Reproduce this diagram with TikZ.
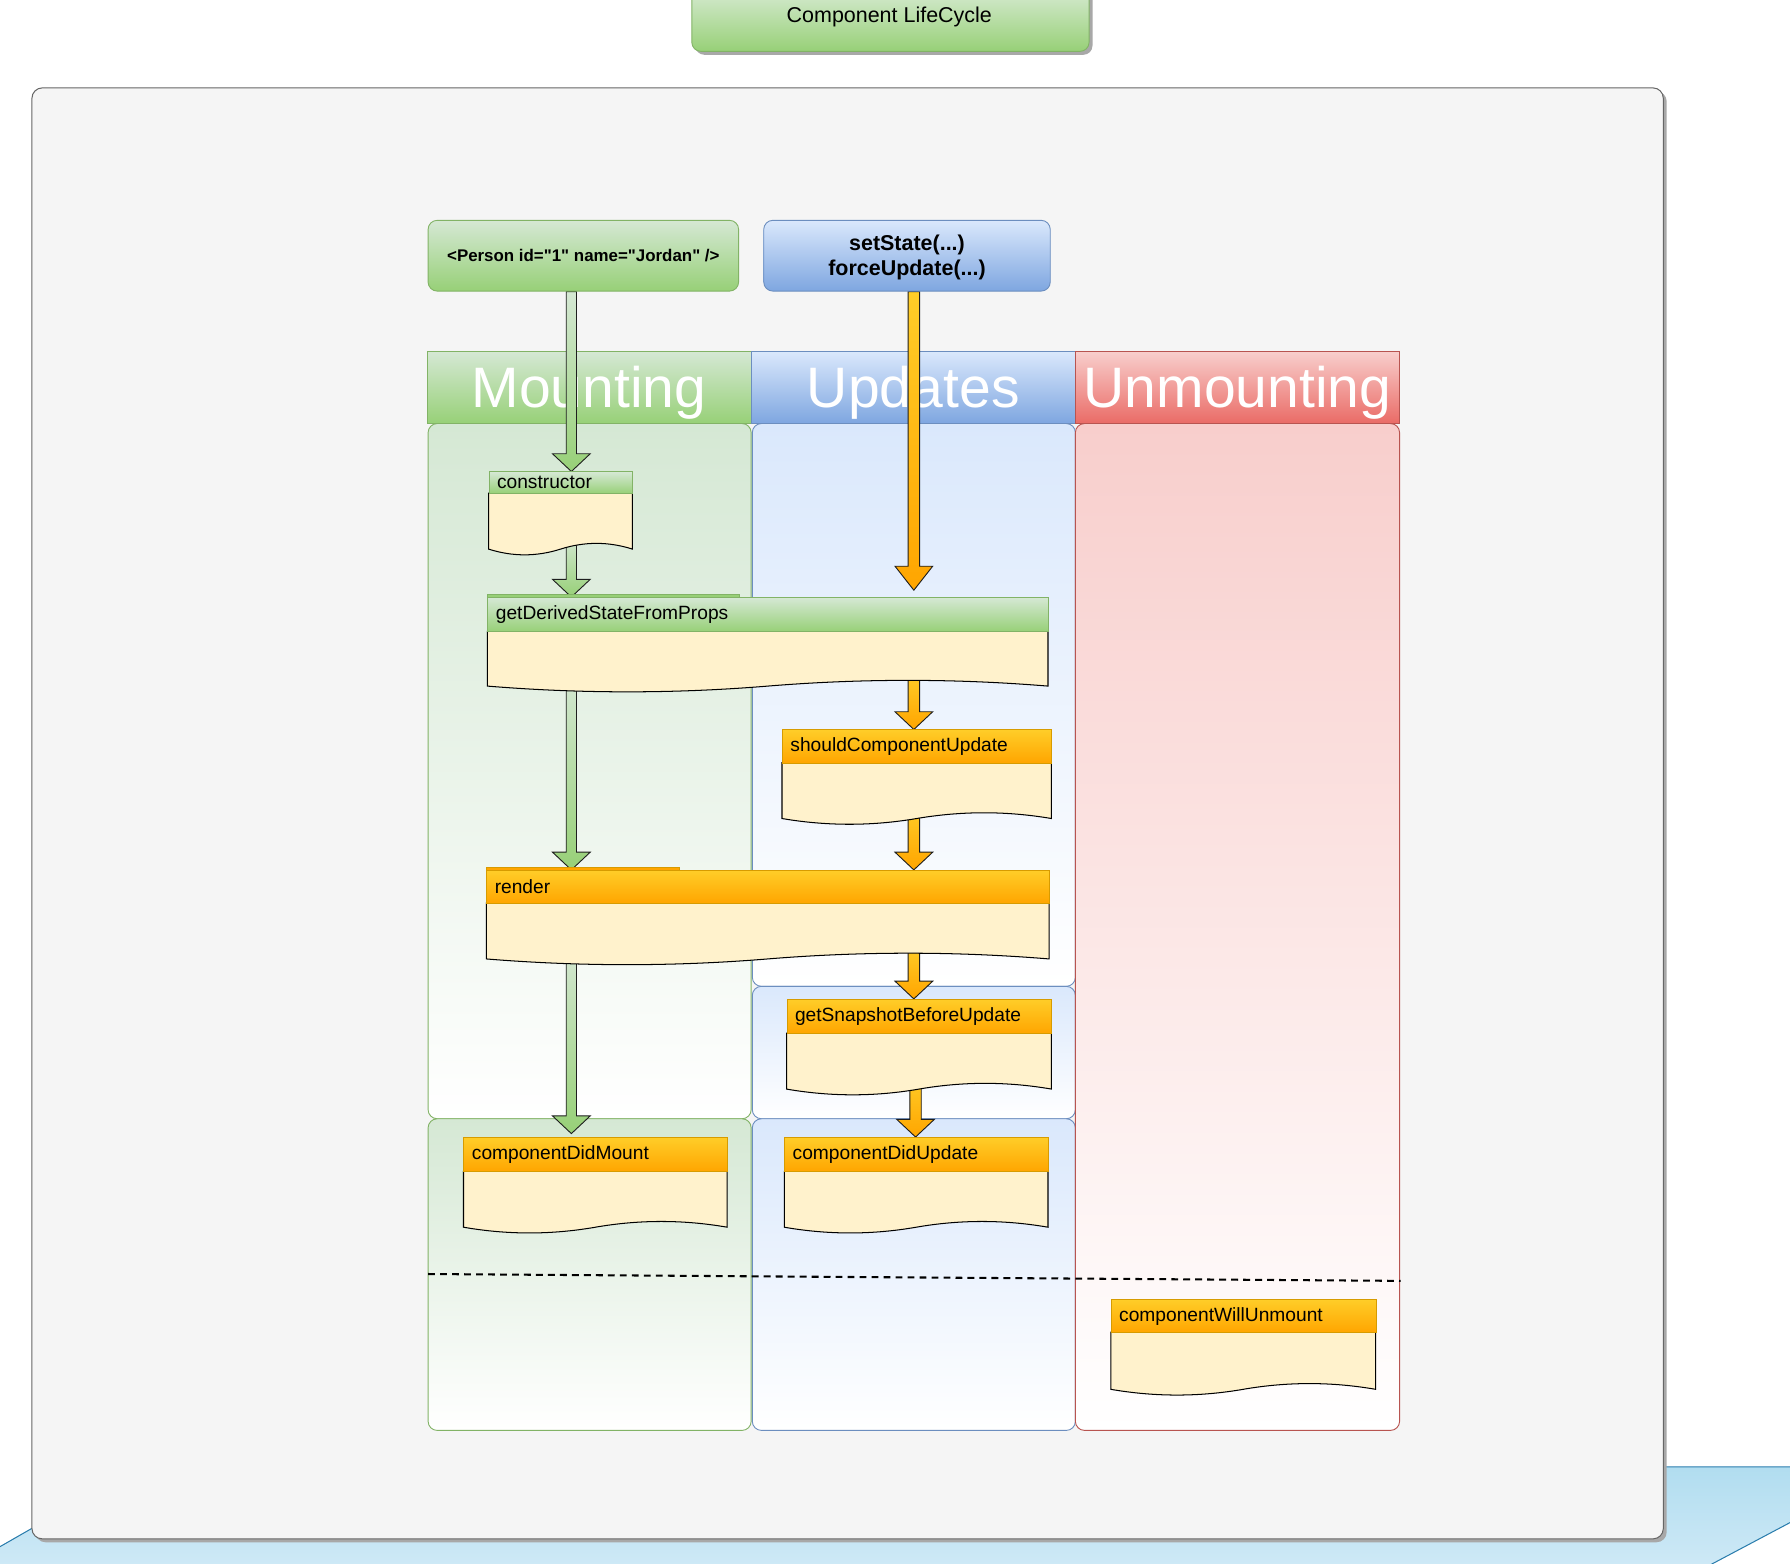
\documentclass[tikz,border=0pt]{standalone}
\usepackage{fontspec}
\setmainfont{Liberation Sans}
\newfontfamily\plainsans{Liberation Sans}
\usetikzlibrary{calc}
\definecolor{green1}{HTML}{D5E8D4}
\definecolor{green2}{HTML}{97D077}
\definecolor{greenS}{HTML}{82B366}
\definecolor{blue1}{HTML}{DAE8FC}
\definecolor{blue2}{HTML}{7EA6E0}
\definecolor{blueS}{HTML}{6C8EBF}
\definecolor{red1}{HTML}{F8CECC}
\definecolor{red2}{HTML}{EA6B66}
\definecolor{redS}{HTML}{B85450}
\definecolor{orange1}{HTML}{FFCD28}
\definecolor{orange2}{HTML}{FFA500}
\definecolor{orangeS}{HTML}{D79B00}
\definecolor{docfill}{HTML}{FFF2CC}
\definecolor{panelF}{HTML}{F5F5F5}
\definecolor{panelS}{HTML}{666666}
\definecolor{shadowC}{HTML}{A8A8A8}
\definecolor{sky1}{HTML}{B1DDF0}
\definecolor{sky2}{HTML}{D8EDF8}
\definecolor{skyS}{HTML}{2A7DAD}
\definecolor{arrS}{HTML}{1E1E1E}
\pgfdeclarelayer{bg}
\pgfdeclarelayer{arr}
\pgfsetlayers{bg,arr,main}
% document shape: header node with label, body with wavy bottom
\newcommand\docnode[8]{% #1 name, #2 x0, #3 x1, #4 ytop, #5 yhead, #6 ybottom, #7 header style, #8 text
  \pgfmathsetmacro\dW{#3-#2}%
  \pgfmathsetmacro\dTW{#3-#2-14}%
  \pgfmathsetmacro\dH{#5-#4}%
  \path[docbody] (#2,#5) -- (#3,#5) -- (#3,#6)
     .. controls ({#3-\dW/6},{#6-6.7}) and ({#3-\dW/3},{#6-6.7}) .. ({(#2+#3)/2},#6)
     .. controls ({#2+\dW/3},{#6+6.7}) and ({#2+\dW/6},{#6+6.7}) .. (#2,#6) -- cycle;
  \node[#7, anchor=north west, minimum width=\dW pt, minimum height=\dH pt,
        text width=\dTW pt, align=left, inner xsep=7pt, inner ysep=0pt] (#1) at (#2,#4) {#8};
  \coordinate (#1-end) at ({(#2+#3)/2},{#6-12});
}
% block arrow: [head length]{style}{shaft half width}{from}{to}
\newcommand\barrow[5][15.5pt]{%
  \path[#2] let \p1=(#4), \p2=(#5) in
    (\x1-#3,\y1) -- (\x1-#3,\y2+#1) -- (\x1-16.5pt,\y2+#1) -- (\x1,\y2)
    -- (\x1+16.5pt,\y2+#1) -- (\x1+#3,\y2+#1) -- (\x1+#3,\y1) -- cycle;
}
\begin{document}
\begin{tikzpicture}[x=1pt,y=-1pt,
  lbl/.style={font=\fontsize{16.8pt}{20pt}\selectfont, text=black},
  hdrG/.style={draw=greenS, line width=0.8pt, top color=green1, bottom color=green2, lbl},
  hdrO/.style={draw=orangeS, line width=0.8pt, top color=orange1, bottom color=orange2, lbl},
  docbody/.style={draw=black, line width=0.9pt, fill=docfill},
  lanehead/.style={minimum width=283.5pt, minimum height=63pt, inner sep=0pt, line width=0.8pt},
  lanetitle/.style={inner sep=0pt, text=white, font=\fontsize{50pt}{60pt}\selectfont},
  lanebody/.style={rounded corners=8pt, line width=0.8pt},
  garrow/.style={draw=arrS, line width=0.8pt, top color=green1, bottom color=green2},
  oarrow/.style={draw=arrS, line width=0.8pt, top color=orange1, bottom color=orange2},
  startbox/.style={rounded corners=8pt, line width=0.8pt, inner sep=0pt},
  dashline/.style={draw=black, line width=1.8pt, dash pattern=on 6pt off 4.5pt}
]
\useasboundingbox (0,0) rectangle (1568,1370);
\clip (0,0) rectangle (1568,1370);

\begin{pgfonlayer}{bg}
  % sky-blue platform behind the panel
  \path[draw=skyS, line width=0.9pt, top color=sky1, bottom color=sky2]
    (122,1285) -- (1660,1285) -- (1443,1400) -- (-79,1400) -- cycle;
  % main panel with shadow
  \fill[shadowC, rounded corners=9pt] (31,80) rectangle (1460,1351);
  \path[fill=panelF, draw=panelS, line width=0.9pt, rounded corners=9pt] (28,77) rectangle (1457,1348);
  % title with shadow
  \fill[shadowC, rounded corners=8pt] (609,-16) rectangle (957,48);
  \node[draw=greenS, line width=0.8pt, top color=green1!70!white, bottom color=green2,
        rounded corners=8pt, minimum width=348pt, minimum height=64pt, inner sep=0pt] (title) at (780,13) {};
  \node[font=\fontsize{18.8pt}{22pt}\selectfont, inner sep=0pt] (titletext) at (779,15) {Component LifeCycle};
  % lane bodies
  \path[lanebody, draw=greenS, top color=green1, bottom color=white] (375,371) rectangle (658,980);
  \path[lanebody, draw=greenS, top color=green1, bottom color=white] (375,980) rectangle (658,1253);
  \path[lanebody, draw=blueS, top color=blue1, bottom color=white] (659,371) rectangle (942,864);
  \path[lanebody, draw=blueS, top color=blue1, bottom color=white] (659,864) rectangle (942,980);
  \path[lanebody, draw=blueS, top color=blue1, bottom color=white] (659,980) rectangle (942,1253);
  \path[lanebody, draw=redS, top color=red1, bottom color=white] (942,371) rectangle (1226,1253);
  % lane headers
  \node[lanehead, draw=greenS, top color=green1, bottom color=green2] (mhead) at (516.5,339.5) {};
  \node[lanehead, draw=blueS, top color=blue1, bottom color=blue2] (uhead) at (800,339.5) {};
  \node[lanehead, draw=redS, top color=red1, bottom color=red2] (xhead) at (1084,339.5) {};
  \node[lanetitle] (mtitle) at (516,344) {Mounting};
  \node[lanetitle] (utitle) at (800,344) {Updates};
  \node[lanetitle] (xtitle) at (1084,344) {Unmounting};
\end{pgfonlayer}

% start boxes
\node[startbox, draw=greenS, top color=green1, bottom color=green2, minimum width=272pt, minimum height=62pt,
      font=\plainsans\bfseries\fontsize{14.8pt}{18pt}\selectfont] (person) at (511,224) {<Person id="1" name="Jordan" />};
\node[startbox, draw=blueS, top color=blue1, bottom color=blue2, minimum width=251pt, minimum height=62pt] (setstate) at (794.5,224) {};
\node[align=center, inner sep=0pt, font=\bfseries\fontsize{18.8pt}{22pt}\selectfont] (setstatetext) at (794.5,225.5) {setState(...)\\forceUpdate(...)};

% small overlapping strips at the top of two boxes
\path[fill=green2, draw=greenS, line width=0.5pt] (427,520.5) rectangle (648,523);
\path[fill=orange2, draw=orangeS, line width=0.5pt] (426,759.3) rectangle (595,762);

% lifecycle methods
\docnode{constructor}{428}{554}{413}{432}{481}{hdrG}{constructor}
\docnode{derived}{427}{918}{523}{553}{601}{hdrG}{getDerivedStateFromProps}
\docnode{should}{685}{921}{639}{668}{717}{hdrO}{shouldComponentUpdate}
\docnode{render}{426}{919}{762}{791}{840}{hdrO}{render}
\docnode{snapshot}{689}{921}{875}{905}{954}{hdrO}{getSnapshotBeforeUpdate}
\docnode{didmount}{406}{637}{996}{1026}{1075}{hdrO}{componentDidMount}
\docnode{didupdate}{687}{918}{996}{1026}{1075}{hdrO}{componentDidUpdate}
\docnode{willunmount}{973}{1205}{1138}{1167}{1217}{hdrO}{componentWillUnmount}

% dashed separator
\coordinate (sepL) at (375,1116);
\coordinate (sepR) at (1227,1122);
\draw[dashline] (sepL) -- (sepR);

% arrow columns
\coordinate (gcol) at (500.5,0);
\coordinate (ocol) at (800.5,0);
\coordinate (ocol2) at (802,0);
\coordinate (derivedtop) at ([yshift=6pt]derived.north);
\coordinate (didmounttop) at ([yshift=3pt]didmount.north);

\begin{pgfonlayer}{arr}
  \barrow{garrow}{4.5pt}{person.south -| gcol}{constructor.north -| gcol}
  \barrow{garrow}{4.5pt}{constructor-end -| gcol}{derived.north -| gcol}
  \barrow{garrow}{4.5pt}{derived-end -| gcol}{render.north -| gcol}
  \barrow{garrow}{4.5pt}{render-end -| gcol}{didmounttop -| gcol}
  \barrow[21pt]{oarrow}{5pt}{setstate.south -| ocol}{derivedtop -| ocol}
  \barrow{oarrow}{5pt}{derived-end -| ocol}{should.north -| ocol}
  \barrow{oarrow}{5pt}{should-end -| ocol}{render.north -| ocol}
  \barrow{oarrow}{5pt}{render-end -| ocol}{snapshot.north -| ocol}
  \barrow{oarrow}{5pt}{snapshot-end -| ocol2}{didupdate.north -| ocol2}
\end{pgfonlayer}
\end{tikzpicture}
\end{document}
